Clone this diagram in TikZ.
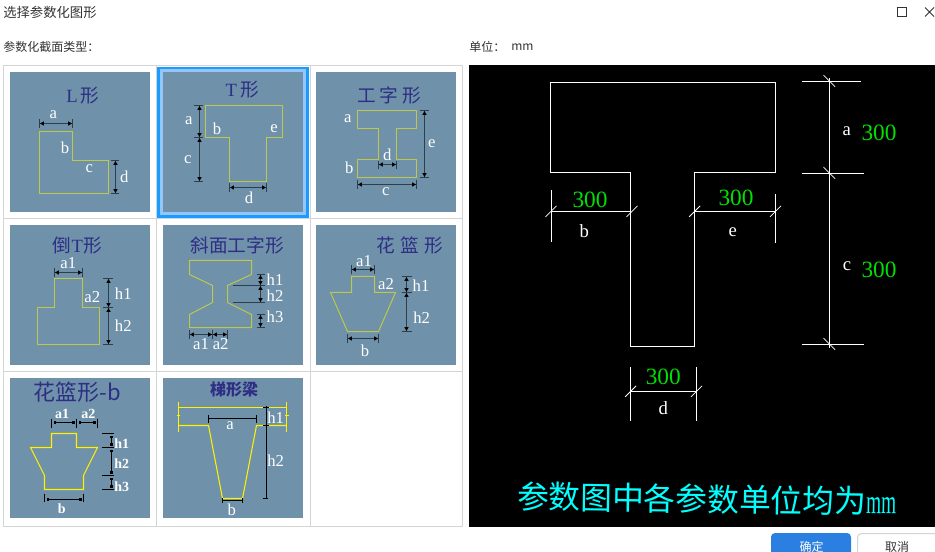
\documentclass[tikz,border=0pt]{standalone}
\usepackage{fontspec}
\usetikzlibrary{arrows.meta}
\setmainfont{Liberation Serif}
\newfontfamily\cjk{Noto Sans CJK SC}
\definecolor{panelc}{HTML}{6F91A9}
\definecolor{gridc}{HTML}{D4D4D4}
\definecolor{titlec}{HTML}{2E2E85}
\definecolor{shapec}{HTML}{BEC84C}
\definecolor{dimc}{HTML}{2E3F4C}
\definecolor{uic}{HTML}{333333}
\definecolor{selo}{HTML}{1A9BFF}
\definecolor{seli}{HTML}{93C6FA}
\definecolor{okc}{HTML}{2B7FE0}
\definecolor{greenc}{HTML}{00E000}
\definecolor{notec}{HTML}{00FFFF}
\newcounter{lb}
\tikzset{
  panel/.style={fill=panelc,draw=none},
  outl/.style={draw=shapec,line width=0.75pt,line join=miter},
  yel/.style={draw=yellow,line width=0.8pt},
  dimline/.style={draw=dimc,line width=0.6pt,{Latex[length=3.2pt,width=3.4pt,color=black]}-{Latex[length=3.2pt,width=3.4pt,color=black]}},
  dimtick/.style={draw=dimc,line width=0.6pt},
  bdim/.style={draw=black,line width=0.7pt,{Square[length=1.8pt,width=1.8pt,color=black,sep=1.5pt]}-{Square[length=1.8pt,width=1.8pt,color=black,sep=1.5pt]}},
  btick/.style={draw=black,line width=0.7pt},
  lbl/.style={text=white,font=\fontsize{12.5pt}{13pt}\selectfont,inner sep=0pt},
  blbl/.style={text=white,font=\fontsize{10.5pt}{11pt}\selectfont\bfseries,inner sep=0pt},
  ptitle/.style={text=titlec,inner sep=0pt,font=\fontsize{14pt}{15pt}\selectfont},
  ui/.style={text=uic,inner sep=0pt,anchor=west,font=\cjk\fontsize{9pt}{10pt}\selectfont},
  wl/.style={draw=white,line width=0.75pt},
  ws/.style={draw=white,line width=0.55pt},
  nval/.style={text=greenc,inner sep=0pt,font=\fontsize{17.5pt}{18pt}\selectfont},
  nlab/.style={text=white,inner sep=0pt,font=\fontsize{14pt}{15pt}\selectfont},
}
\newcommand\lab[3]{\stepcounter{lb}\node[lbl] (l\thelb) at (#1,#2) {#3};}
\newcommand\blab[3]{\stepcounter{lb}\node[blbl] (l\thelb) at (#1,#2) {#3};}
\newcommand\snapthree[3]{\pgfmathsetmacro\sc{floor(#1)+.5}\pgfmathsetmacro\sa{floor(#2)+.5}\pgfmathsetmacro\sb{floor(#3)+.5}}
\newcommand\hdm[5]{\snapthree{#1}{#2}{#3}\draw[dimline] (\sa,\sc) -- (\sb,\sc);\draw[dimtick] (\sa,#4) -- (\sa,#5) (\sb,#4) -- (\sb,#5);}
\newcommand\vdm[5]{\snapthree{#1}{#2}{#3}\draw[dimline] (\sc,\sa) -- (\sc,\sb);\draw[dimtick] (#4,\sa) -- (#5,\sa) (#4,\sb) -- (#5,\sb);}
\newcommand\bhdm[5]{\snapthree{#1}{#2}{#3}\draw[bdim] (\sa,\sc) -- (\sb,\sc);\draw[btick] (\sa,#4) -- (\sa,#5) (\sb,#4) -- (\sb,#5);}
\newcommand\bvdm[5]{\snapthree{#1}{#2}{#3}\draw[bdim] (\sc,\sa) -- (\sc,\sb);\draw[btick] (#4,\sa) -- (#5,\sa) (#4,\sb) -- (#5,\sb);}
\newcommand\fslashm[2]{\draw[ws] (#1-5.5,#2+5.5) -- (#1+5.5,#2-5.5);}
\newcommand\rslashm[2]{\draw[ws] (#1-5.8,#2-5.8) -- (#1+5.8,#2+5.8);}
\begin{document}
\begin{tikzpicture}[x=0.75pt,y=-0.75pt]
\useasboundingbox (0,0) rectangle (935,552);
\fill[white] (0,0) rectangle (935,552);
% window chrome
\node[ui,font=\cjk\fontsize{10pt}{11pt}\selectfont] (wintitle) at (3,12.5) {选择参数化图形};
\node[ui] (typelabel) at (3,47) {参数化截面类型：};
\node[ui] (unitlabel) at (469,47) {单位：};
\node[ui] (unitval) at (511,47) {mm};
\draw[uic,line width=0.75pt] (897.5,7.5) rectangle (906.5,16.5);
\draw[uic,line width=0.7pt] (925,7.5) -- (934,16.5) (934,7.5) -- (925,16.5);
% grid
\draw[gridc,line width=0.75pt] (3.5,65.5) rectangle (462.5,526.5);
\draw[gridc,line width=0.75pt] (156.5,65.5) -- (156.5,526.5) (310.5,65.5) -- (310.5,526.5) (3.5,218.5) -- (462.5,218.5) (3.5,371.5) -- (462.5,371.5);
% selected cell
\fill[selo] (157,67) rectangle (309,218);
\fill[seli] (160,69.5) rectangle (306,215.5);
% panels
\foreach \px/\py in {10/72,163/72,316/72,10/225,163/225,316/225,10/378,163/378}{
  \fill[panel] (\px,\py) rectangle ++(140,140);
}
% L
\node[ptitle] (t1) at (83,96) {L\,{\cjk 形}};
\draw[outl] (39.5,131.5) -- (72.5,131.5) -- (72.5,160.5) -- (108.5,160.5) -- (108.5,193.5) -- (39.5,193.5) -- cycle;
\hdm{123.3}{39.3}{72.3}{119.3}{127.7}
\vdm{115.3}{160.3}{193.3}{111}{119.3}
\lab{53.3}{115}{a}\lab{65}{147.7}{b}\lab{89.3}{168.3}{c}\lab{124.3}{176.7}{d}
% T
\node[ptitle] (t2) at (242.3,90) {T\,{\cjk 形}};
\draw[outl] (205.5,105.5) -- (282.5,105.5) -- (282.5,137.5) -- (266.5,137.5) -- (266.5,181.5) -- (229.5,181.5) -- (229.5,137.5) -- (205.5,137.5) -- cycle;
\vdm{199}{105.3}{137.3}{194.3}{203}
\vdm{199}{137.3}{181.7}{194.3}{203}
\hdm{187.3}{229.3}{266.3}{183.3}{192}
\lab{188.7}{121}{a}\lab{187.7}{159.3}{c}\lab{217}{129}{b}\lab{274}{129}{e}\lab{249}{198.3}{d}
% I
\node[ptitle] (t3) at (389,95) {\cjk 工\hspace{3pt}字\hspace{3pt}形};
\draw[outl] (357.5,110.5) -- (416.5,110.5) -- (416.5,128.5) -- (396.5,128.5) -- (396.5,159.5) -- (416.5,159.5) -- (416.5,177.5) -- (357.5,177.5) -- (357.5,159.5) -- (378.5,159.5) -- (378.5,128.5) -- (357.5,128.5) -- cycle;
\vdm{424.3}{110.3}{177.3}{420}{428.7}
\hdm{164.7}{378}{396}{161}{169}
\hdm{184}{357.3}{416.7}{180}{188.7}
\lab{347.7}{118.3}{a}\lab{349.3}{168.3}{b}\lab{385.7}{192}{c}\lab{387.3}{155}{d}\lab{431.7}{143.3}{e}
% inverted T
\node[ptitle] (t4) at (77.3,245.3) {{\cjk 倒}T{\cjk 形}};
\draw[outl] (54.5,278.5) -- (82.5,278.5) -- (82.5,307.5) -- (99.5,307.5) -- (99.5,344.5) -- (37.5,344.5) -- (37.5,307.5) -- (54.5,307.5) -- cycle;
\hdm{272.3}{54.7}{82}{268}{277.3}
\vdm{108}{278.7}{307.3}{103.3}{113.3}
\vdm{108}{307.3}{344}{103.3}{113.3}
\lab{68.3}{263}{a1}\lab{92.3}{297.3}{a2}\lab{123.3}{294}{h1}\lab{123.3}{325.7}{h2}
% sloped I
\node[ptitle] (t5) at (237,245.3) {\cjk 斜面工字形};
\draw[outl] (189.5,260.5) -- (251.5,260.5) -- (251.5,274.5) -- (227.5,285.5) -- (227.5,302.5) -- (251.5,314.5) -- (251.5,327.5) -- (189.5,327.5) -- (189.5,314.5) -- (212.5,302.5) -- (212.5,285.5) -- (189.5,274.5) -- cycle;
\vdm{260.7}{274}{285.7}{256.7}{265}
\vdm{260.7}{285.7}{302.7}{232.7}{265}
\vdm{260.7}{314}{327}{256.7}{265}
\hdm{334}{189}{212.3}{329.7}{338.7}
\hdm{334}{212.3}{227.7}{329.7}{338.7}
\lab{275}{279.7}{h1}\lab{275}{295.3}{h2}\lab{275}{317}{h3}\lab{201}{344}{a1}\lab{220.7}{344}{a2}
% basket
\node[ptitle] (t6) at (410,245.3) {\cjk 花\hspace{4pt}篮\hspace{4pt}形};
\draw[outl] (351.5,276.5) -- (374.5,276.5) -- (374.5,292.5) -- (395.5,292.5) -- (378.5,331.5) -- (347.5,331.5) -- (330.5,292.5) -- (351.5,292.5) -- cycle;
\hdm{269}{351.3}{374.3}{264.7}{274}
\vdm{406.7}{276.3}{292.7}{401.7}{411.7}
\vdm{406.7}{292.7}{331.3}{401.7}{411.7}
\hdm{338}{347}{378.7}{333.7}{343.3}
\lab{364}{260.7}{a1}\lab{386}{283.7}{a2}\lab{421}{285.7}{h1}\lab{421.7}{317.3}{h2}\lab{365}{350.7}{b}
% basket b
\node[ptitle,font=\fontsize{16.5pt}{17pt}\selectfont] (t7) at (77.3,392) {\cjk 花篮形-b};
\draw[yel] (51.5,433.5) -- (76.5,433.5) -- (76.5,447.5) -- (97.5,447.5) -- (83.5,475.5) -- (83.5,489.5) -- (44.5,489.5) -- (44.5,475.5) -- (30.5,447.5) -- (51.5,447.5) -- cycle;
\bhdm{422}{51.3}{76.3}{418.7}{428}
\bhdm{422}{76.3}{97}{418.7}{428}
\bvdm{111.7}{433.3}{447.7}{102}{114}
\bvdm{111.7}{447.7}{475.3}{102}{114}
\bvdm{111.7}{475.3}{489.3}{102}{114}
\bhdm{499.3}{44.3}{83.3}{493.7}{502}
\blab{62}{414.3}{a1}\blab{88.3}{414.3}{a2}\blab{121.7}{443.7}{h1}\blab{121.7}{463.7}{h2}\blab{121.7}{487}{h3}\blab{61.7}{508.7}{b}
% trapezoid beam
\node[ptitle,font=\fontsize{12pt}{13pt}\selectfont\bfseries] (t8) at (234,389.3) {\cjk 梯形梁};
\draw[yel] (178.5,407.5) -- (286.5,407.5) (178.5,401.5) -- (178.5,432) (286.5,401.5) -- (286.5,432);
\draw[yel] (178.5,425.5) -- (208.5,425.5) -- (222.5,498.5) -- (242.5,498.5) -- (256.5,425.5) -- (286.5,425.5);
\draw[yel,line width=0.6pt] (176.5,415.5) -- (180,415.5) (285,415.5) -- (288.5,415.5);
\draw[black,line width=0.5pt] (208.5,418.5) -- (256.5,418.5) (208.5,415) -- (208.5,423) (256.5,415) -- (256.5,423);
\draw[btick] (266.5,406) -- (266.5,498) (263,407.5) -- (269,407.5) (263,425.5) -- (269,425.5) (263,498) -- (268,498);
\draw[black,line width=0.5pt] (222.5,500.5) -- (242.5,500.5) (222.5,498) -- (222.5,503) (242.5,498) -- (242.5,503);
\lab{275.7}{418}{h1}\lab{275.7}{460.3}{h2}\lab{230}{425.3}{a}\lab{231.7}{509.3}{b}
% black preview panel
\fill[black] (469,65) rectangle (935,527);
\draw[wl] (550.5,82.5) -- (775.5,82.5) -- (775.5,172.5) -- (694.5,172.5) -- (694.5,346.5) -- (630.5,346.5) -- (630.5,172.5) -- (550.5,172.5) -- cycle;
% right dims
\draw[wl] (829.5,78) -- (829.5,348);
\draw[wl] (802,81.5) -- (861,81.5) (802,173.5) -- (863.7,173.5) (802,344.5) -- (864,344.5);
\rslashm{829.3}{81}\rslashm{829.3}{173}\rslashm{829.3}{344}
\node[nlab] (na) at (846.7,131) {a};
\node[nval] (va) at (879,133.3) {300};
\node[nlab] (nc) at (847,266) {c};
\node[nval] (vc) at (879,270) {300};
% b dim
\draw[wl] (551.5,211.5) -- (630.5,211.5) (551.5,190) -- (551.5,242);
\fslashm{551}{211.3}\fslashm{632}{211.3}
\node[nval] (vb) at (590,200) {300};
\node[nlab] (nb) at (584.3,231) {b};
% e dim
\draw[wl] (694.5,211.5) -- (775.5,211.5) (775.5,194) -- (775.5,242.7);
\fslashm{694.7}{211.3}\fslashm{775.5}{211.3}
\node[nval] (ve) at (736,198.3) {300};
\node[nlab] (ne) at (732.7,231.7) {e};
% d dim
\draw[wl] (630.5,391.5) -- (696.5,391.5) (630.5,367) -- (630.5,421.3) (696.5,367) -- (696.5,421.3);
\fslashm{630.7}{391.3}\fslashm{696.5}{391.3}
\node[nval] (vd) at (663.3,377.3) {300};
\node[nlab] (nd) at (663.3,408.3) {d};
% note
\node[text=notec,inner sep=0pt,rotate=-0.8,font=\fontsize{23.8pt}{24pt}\selectfont] (note) at (706.7,499) {{\cjk 参数图中各参数单位均为}\resizebox{22.5pt}{12pt}{mm}};
% buttons
\draw[fill=okc,draw=none,rounded corners=3pt] (771,533) rectangle (851,570);
\draw[draw=gridc,fill=white,line width=0.75pt,rounded corners=3pt] (857.5,533.5) rectangle (950,570);
\node[ui,anchor=center,text=white] (okbtn) at (811.5,546.5) {确定};
\node[ui,anchor=center] (cancelbtn) at (897,546.5) {取消};
\end{tikzpicture}
\end{document}
